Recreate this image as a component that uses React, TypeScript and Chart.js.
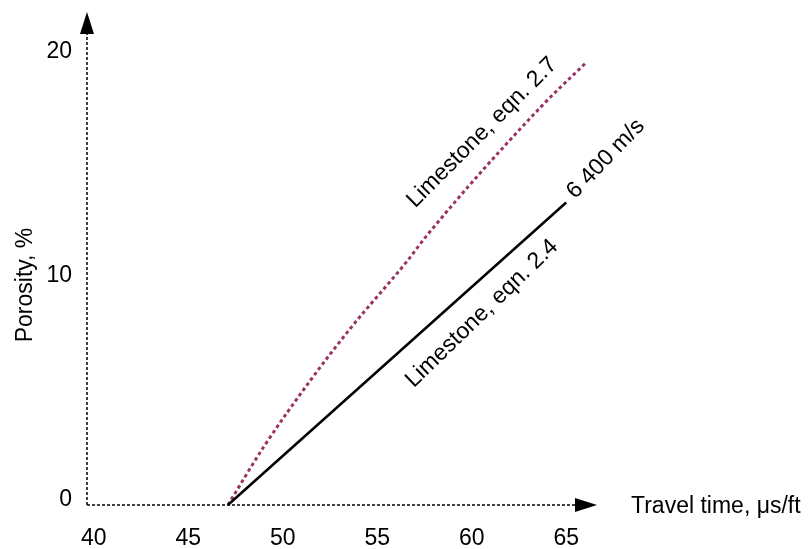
import React, { useEffect, useRef } from "react";
import { Chart, registerables } from "chart.js";

Chart.register(...registerables);

// ---- data ----
const xTickValues = [40, 45, 50, 55, 60, 65];
const yTickValues = [0, 10, 20];

// Limestone, eqn. 2.4 (solid black)
const eqn24Time = [47.1, 65.0];
const eqn24Porosity = [0, 13.5];

// Limestone, eqn. 2.7 (dashed purple)
const eqn27Time = [47.1, 49.0, 51.5, 53.6, 56.6, 57.6, 63.7, 66.0];
const eqn27Porosity = [0, 2.6, 5.6, 7.9, 10.9, 12.0, 17.8, 19.7];

const xTitle = "Travel time, \u03bcs/ft";
const yTitle = "Porosity, %";

// annotation texts with anchors in data units
const noteTexts = ["Limestone, eqn. 2.7", "Limestone, eqn. 2.4", "6 400 m/s"];
const noteX = [60.55, 60.54, 67.1];
const noteY = [16.62, 8.55, 15.45];
const noteAngle = [-45, -44, -46];

const FONT = "'Liberation Sans', Arial, Helvetica, sans-serif";
const FS = 23;
const PURPLE = "#993366";

export default function App() {
  const ref = useRef<HTMLCanvasElement | null>(null);

  useEffect(() => {
    document.body.style.margin = "0";
    const canvas = ref.current;
    if (!canvas) return;

    const arrowLen = 22;
    const arrowHalf = 7;

    const axesPlugin = {
      id: "axesAndNotes",
      beforeDatasetsDraw(chart: any) {
        const ctx = chart.ctx;
        const { left, right, top, bottom } = chart.chartArea;
        ctx.save();
        ctx.strokeStyle = "#000";
        ctx.lineWidth = 1.5;
        ctx.setLineDash([3, 2]);
        ctx.beginPath();
        ctx.moveTo(left, bottom);
        ctx.lineTo(right - arrowLen, bottom);
        ctx.moveTo(left, bottom);
        ctx.lineTo(left, top + arrowLen);
        ctx.stroke();
        ctx.setLineDash([]);
        ctx.fillStyle = "#000";
        ctx.beginPath();
        ctx.moveTo(right, bottom);
        ctx.lineTo(right - arrowLen, bottom - arrowHalf);
        ctx.lineTo(right - arrowLen, bottom + arrowHalf);
        ctx.closePath();
        ctx.fill();
        ctx.beginPath();
        ctx.moveTo(left, top);
        ctx.lineTo(left - arrowHalf, top + arrowLen);
        ctx.lineTo(left + arrowHalf, top + arrowLen);
        ctx.closePath();
        ctx.fill();
        ctx.restore();
      },
      afterDraw(chart: any) {
        const ctx = chart.ctx;
        const { right, bottom } = chart.chartArea;
        const xs = chart.scales.x;
        const ys = chart.scales.y;
        ctx.save();
        ctx.fillStyle = "#000";
        ctx.font = `${FS}px ${FONT}`;
        // x title
        ctx.textAlign = "left";
        ctx.textBaseline = "alphabetic";
        ctx.fillText(xTitle, right + 34, bottom + 8);
        // y title
        ctx.save();
        ctx.translate(32, 285);
        ctx.rotate(-Math.PI / 2);
        ctx.textAlign = "center";
        ctx.fillText(yTitle, 0, 0);
        ctx.restore();
        // notes
        ctx.textAlign = "center";
        ctx.textBaseline = "middle";
        for (let i = 0; i < noteTexts.length; i++) {
          const px = xs.getPixelForValue(noteX[i]);
          const py = ys.getPixelForValue(noteY[i]);
          ctx.save();
          ctx.translate(px, py);
          ctx.rotate((noteAngle[i] * Math.PI) / 180);
          ctx.fillText(noteTexts[i], 0, 0);
          ctx.restore();
        }
        ctx.restore();
      },
    };

    const chart = new Chart(canvas, {
      type: "scatter",
      data: {
        datasets: [
          {
            label: noteTexts[1],
            data: eqn24Time.map((t, i) => ({ x: t, y: eqn24Porosity[i] })),
            showLine: true,
            borderColor: "#000",
            borderWidth: 2.5,
            pointRadius: 0,
            clip: 6,
          } as any,
          {
            label: noteTexts[0],
            data: eqn27Time.map((t, i) => ({ x: t, y: eqn27Porosity[i] })),
            showLine: true,
            borderColor: PURPLE,
            borderWidth: 3,
            borderDash: [3.5, 3],
            pointRadius: 0,
            cubicInterpolationMode: "monotone",
            clip: 6,
          } as any,
        ],
      },
      options: {
        responsive: false,
        animation: false,
        devicePixelRatio: 1,
        layout: { padding: { left: 0, right: 211, top: 12, bottom: 0 } },
        plugins: {
          legend: { display: false },
          tooltip: { enabled: false },
        },
        scales: {
          x: {
            type: "linear",
            min: 39.645,
            max: 66.63,
            grid: { display: false },
            border: { display: false },
            afterFit: (s: any) => {
              s.height = 44;
              s.paddingLeft = 0;
              s.paddingRight = 0;
            },
            afterBuildTicks: (s: any) => {
              s.ticks = xTickValues.map((v) => ({ value: v }));
            },
            ticks: {
              padding: 12,
              color: "#000",
              font: { family: FONT, size: FS },
              maxRotation: 0,
              autoSkip: false,
            },
          },
          y: {
            type: "linear",
            min: 0,
            max: 22,
            grid: { display: false },
            border: { display: false },
            afterFit: (s: any) => {
              s.width = 87;
              s.paddingTop = 0;
              s.paddingBottom = 0;
            },
            afterBuildTicks: (s: any) => {
              s.ticks = yTickValues.map((v) => ({ value: v }));
            },
            ticks: {
              padding: 7,
              labelOffset: -5,
              color: "#000",
              font: { family: FONT, size: FS },
              autoSkip: false,
            },
          },
        },
      },
      plugins: [axesPlugin],
    });

    return () => chart.destroy();
  }, []);

  return (
    <div style={{ width: 808, height: 549, overflow: "hidden" }}>
      <canvas ref={ref} width={808} height={549} style={{ display: "block" }} />
    </div>
  );
}
